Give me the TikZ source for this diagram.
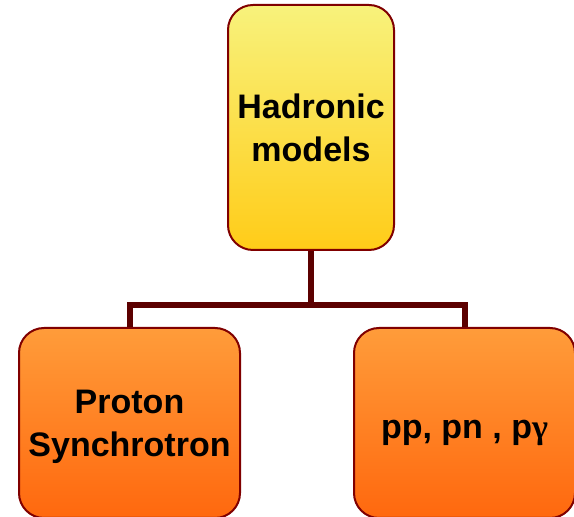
\documentclass[tikz,border=0pt]{standalone}
\usepackage{fontspec}
\setmainfont{Liberation Sans}
\newfontfamily\symfont{Liberation Serif}
\definecolor{boxrim}{RGB}{128,0,0}
\definecolor{linkred}{RGB}{92,0,0}
\definecolor{yeltop}{RGB}{248,242,124}
\definecolor{yelbot}{RGB}{255,204,24}
\definecolor{ortop}{RGB}{255,156,58}
\definecolor{orbot}{RGB}{255,104,14}
\tikzset{
  model/.style={draw=boxrim,line width=1pt,rounded corners=12.5pt,align=center,
    font=\fontsize{17}{21.5}\selectfont\bfseries,inner sep=0pt,text depth=0pt},
  link/.style={draw=linkred,line width=3pt}
}
\begin{document}
\begin{tikzpicture}[x=0.5pt,y=-0.5pt]
  \useasboundingbox (0,0) rectangle (574,517);
  \node[model,minimum width=83pt,minimum height=122.5pt,top color=yeltop,bottom color=yelbot]
    (hadr) at (311,127.5) {Hadronic\\models};
  \node[model,minimum width=110.5pt,minimum height=95pt,top color=ortop,bottom color=orbot]
    (sync) at (129.5,423) {Proton\\Synchrotron};
  \node[model,minimum width=110.5pt,minimum height=95pt,top color=ortop,bottom color=orbot,
    text height=16pt] (inter) at (464.5,423) {pp, pn , p{\symfont γ}};
  \coordinate (bus) at (0,305);
  % tree connector
  \draw[link] (hadr.south) -- (hadr.south |- bus) -| (sync.north);
  \draw[link] (hadr.south |- bus) -| (inter.north);
\end{tikzpicture}
\end{document}
